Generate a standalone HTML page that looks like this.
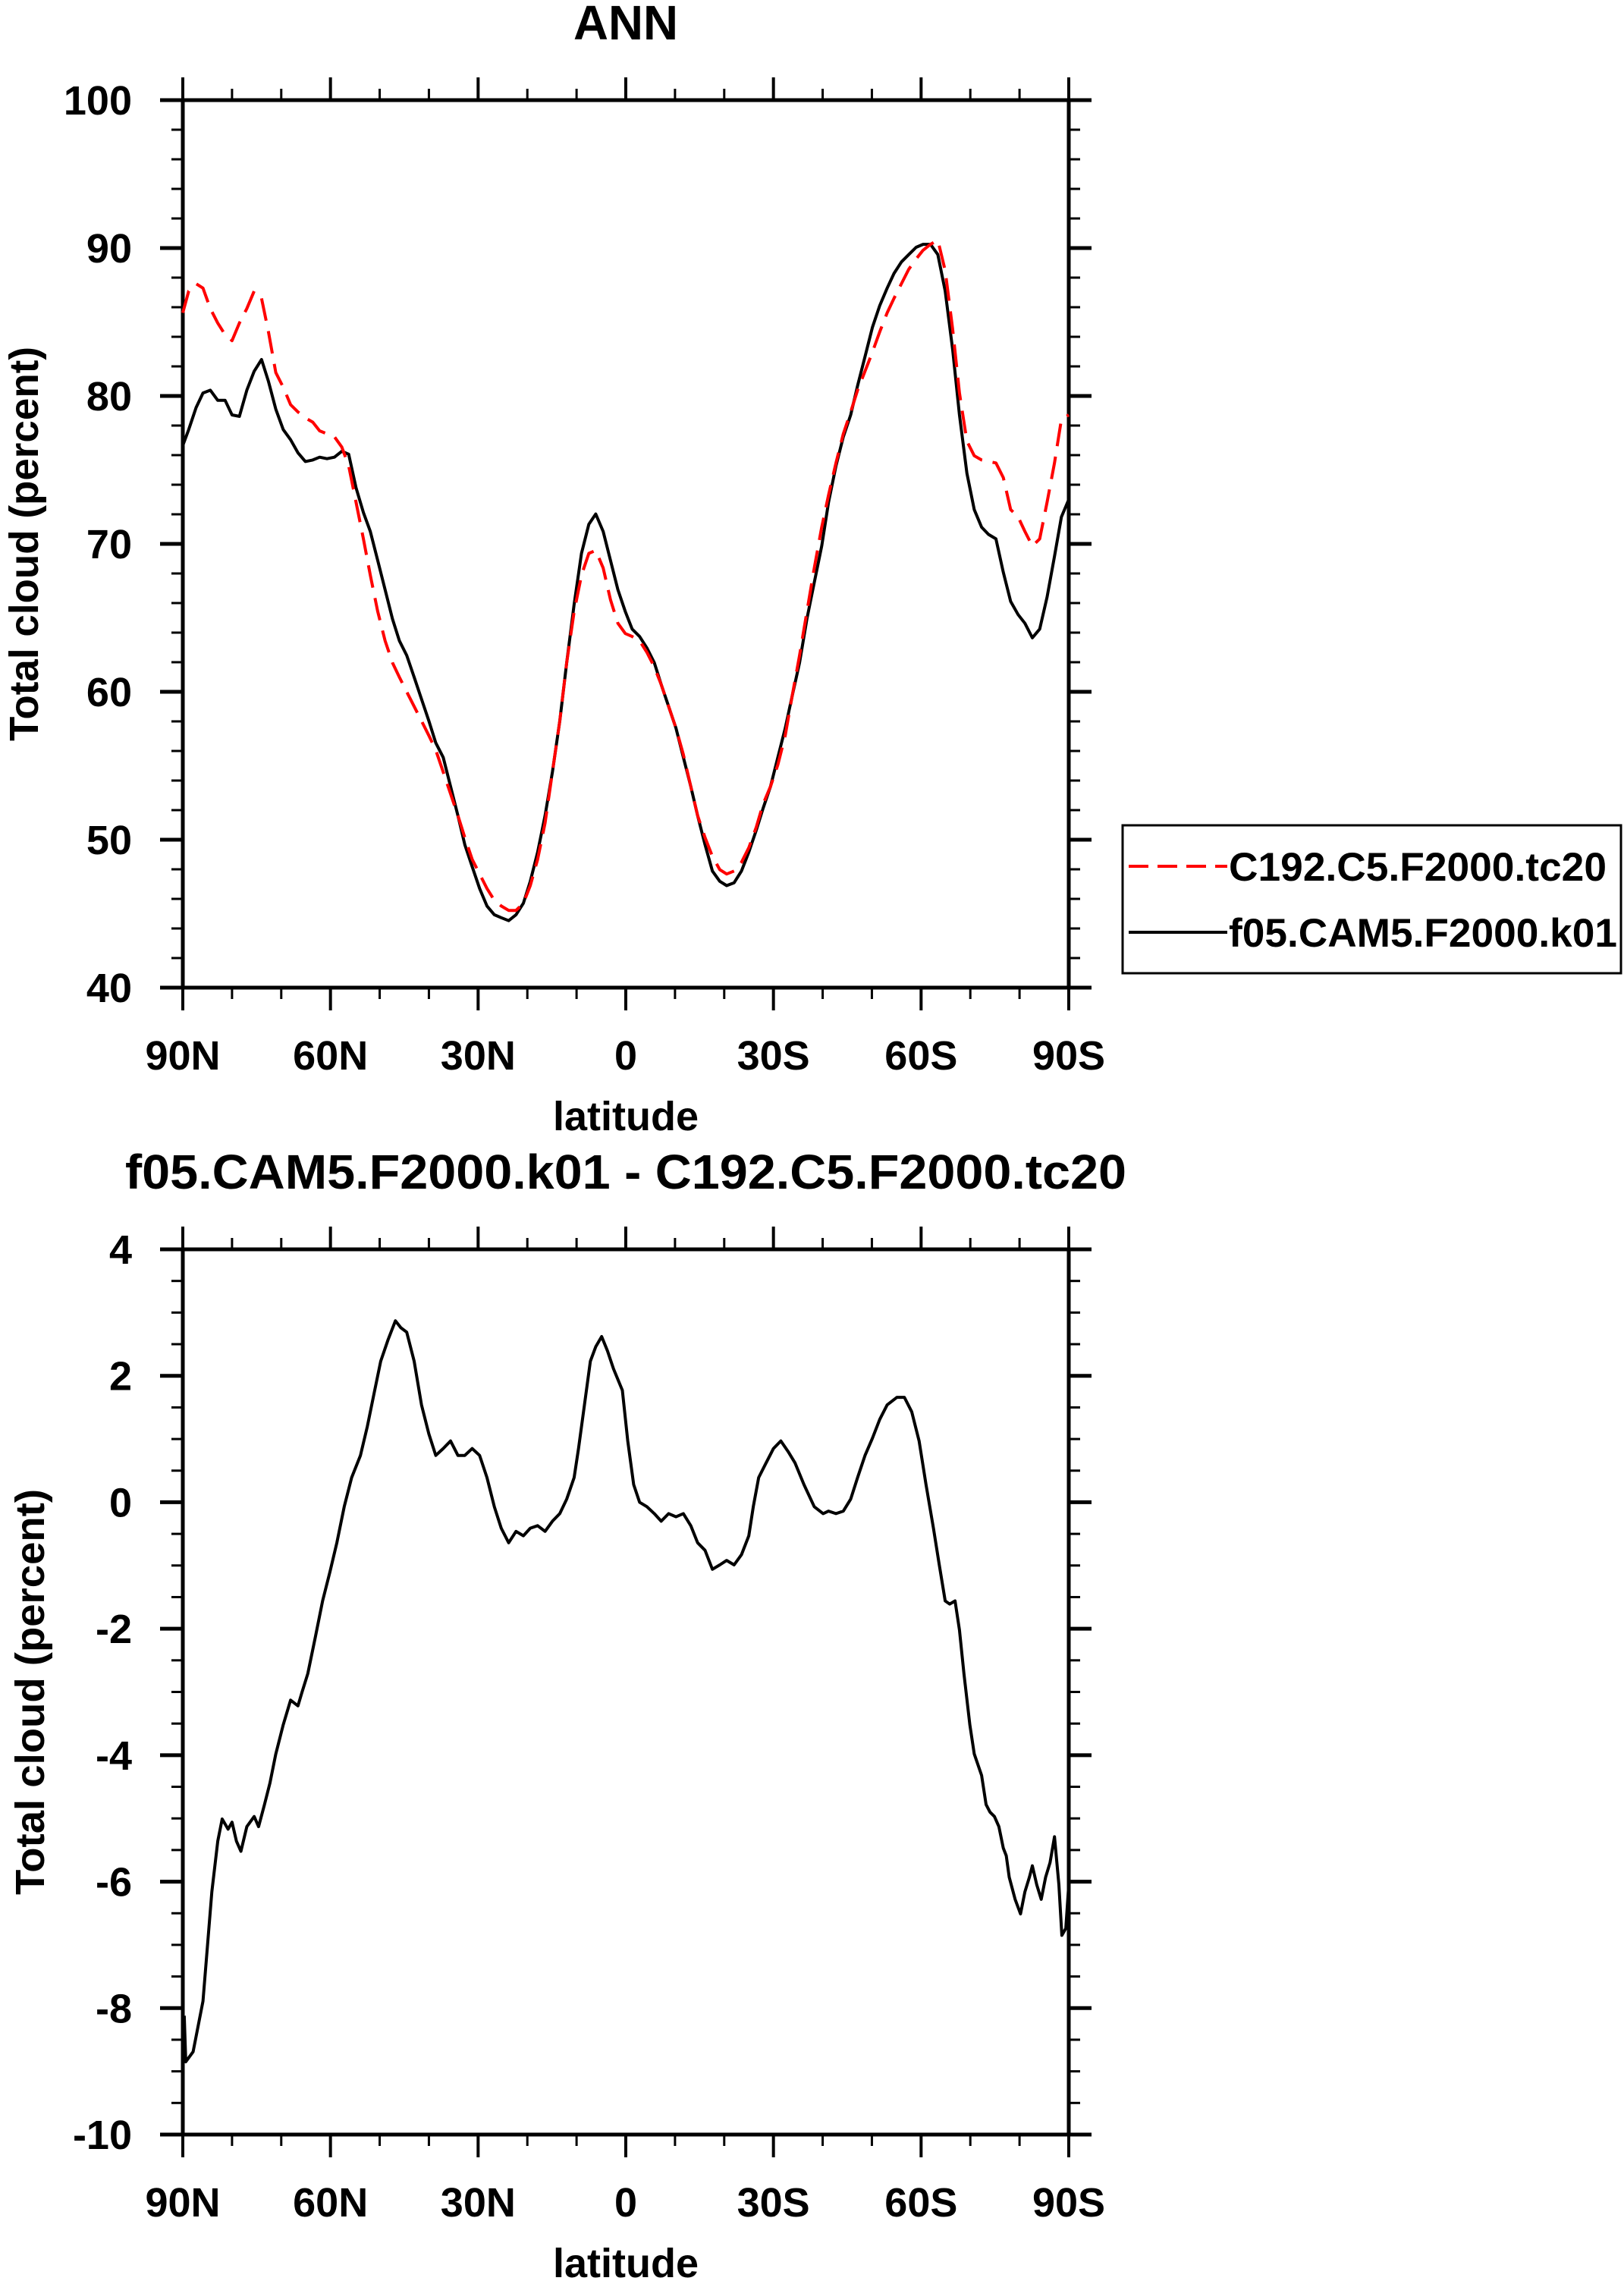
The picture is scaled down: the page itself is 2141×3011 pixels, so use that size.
<!DOCTYPE html>
<html><head><meta charset="utf-8"><style>
html,body{margin:0;padding:0;background:#fff;}
svg{display:block;}
text{font-family:"Liberation Sans",Arial,sans-serif;font-weight:bold;fill:#000;}
</style></head><body>
<svg id="chart" width="2141" height="3011" viewBox="0 0 2141 3011" xmlns="http://www.w3.org/2000/svg">
<rect width="2141" height="3011" fill="#fff"/>
<g id="top"></g>
<g id="bot"></g>
</svg>
<script>
// latitude grid for top panel (deg, north positive)
const latTop = [90.0,88.8,87.3,85.9,84.4,82.9,81.4,80.0,78.5,77.0,75.5,74.0,72.6,71.1,69.6,68.1,66.6,65.1,63.6,62.2,60.7,59.2,57.7,56.3,54.8,53.3,51.9,50.4,48.9,47.4,46.0,44.5,43.0,41.5,40.0,38.6,37.1,35.6,34.1,32.7,31.2,29.7,28.2,26.7,25.3,23.8,22.3,20.8,19.4,17.9,16.4,14.9,13.4,12.0,10.5,9.0,7.5,6.1,4.6,3.1,1.6,0.1,-1.3,-2.8,-4.3,-5.8,-7.2,-8.7,-10.2,-11.7,-13.2,-14.6,-16.1,-17.6,-19.1,-20.5,-22.0,-23.5,-25.0,-26.5,-27.9,-29.4,-30.9,-32.4,-33.8,-35.3,-36.8,-38.3,-39.8,-41.2,-42.7,-44.2,-45.7,-47.1,-48.6,-50.1,-51.6,-53.1,-54.5,-56.0,-57.5,-59.0,-60.4,-61.9,-63.4,-64.9,-66.4,-67.8,-69.3,-70.8,-72.3,-73.7,-75.2,-76.7,-78.2,-79.7,-81.1,-82.6,-84.1,-85.6,-87.1,-88.5,-90.0];
const cloudK01 = [76.65,77.73,79.21,80.2,80.39,79.70,79.70,78.72,78.62,80.39,81.67,82.46,80.99,79.11,77.73,77.04,76.16,75.57,75.67,75.86,75.76,75.86,76.26,76.06,73.79,72.12,70.84,68.87,66.90,64.93,63.45,62.46,60.99,59.51,58.03,56.55,55.57,53.60,51.63,49.66,48.18,46.70,45.52,44.93,44.73,44.53,44.93,45.71,47.19,49.16,51.63,54.58,58.03,61.97,65.91,69.36,71.33,72.02,70.84,68.87,66.90,65.42,64.24,63.74,62.96,61.97,60.49,59.01,57.54,55.57,53.60,51.63,49.66,47.88,47.19,46.90,47.09,47.88,49.16,50.64,52.12,53.60,55.57,57.54,59.70,61.97,64.93,67.39,69.85,72.81,75.27,77.24,78.72,80.69,82.66,84.63,86.11,87.29,88.28,89.06,89.56,90.05,90.25,90.25,89.56,87.09,83.15,78.72,74.78,72.32,71.13,70.64,70.34,68.08,66.11,65.22,64.63,63.65,64.24,66.40,69.16,71.82,73.0];
const cloudTc20 = [85.62,87.09,87.59,87.29,85.91,84.93,84.14,83.74,84.93,85.91,87.09,86.60,84.34,81.58,80.59,79.41,78.92,78.52,78.23,77.64,77.44,77.24,76.55,75.27,72.81,70.34,67.88,65.42,63.45,61.97,60.99,60.0,59.01,58.03,57.04,56.06,54.58,53.10,51.63,50.15,48.67,47.68,46.70,45.91,45.52,45.22,45.22,45.71,46.90,48.67,51.13,54.58,58.03,61.97,65.42,67.88,69.36,69.56,68.37,66.21,64.63,63.94,63.74,63.45,62.66,61.68,60.49,59.01,57.54,55.76,53.60,51.63,50.15,48.87,47.98,47.68,47.88,48.47,49.46,50.84,52.41,53.60,55.07,57.04,59.70,62.46,65.42,68.37,71.13,73.30,75.47,77.44,78.92,80.39,81.67,82.96,84.34,85.62,86.60,87.59,88.57,89.26,89.85,90.25,90.54,88.47,84.53,80.20,76.95,75.96,75.67,75.57,75.47,74.48,72.32,71.82,70.84,69.85,70.34,72.81,75.47,78.42,78.72];
// difference panel
const latDiff = [89.7,89.4,87.9,85.9,84.1,82.9,82.0,80.8,80.0,79.1,78.2,77.0,75.5,74.6,73.4,72.3,71.1,69.6,68.1,66.6,65.8,64.6,63.1,61.6,60.1,58.7,57.2,55.7,53.9,52.5,51.3,49.8,48.3,46.8,45.7,44.5,43.0,41.5,40.0,38.6,37.1,35.6,34.1,32.7,31.2,29.7,28.2,26.7,25.3,23.8,22.3,20.8,19.4,17.9,16.4,14.9,13.4,12.0,10.5,9.6,8.4,7.2,6.1,4.9,3.7,2.5,0.7,-0.4,-1.6,-2.8,-4.3,-5.8,-7.2,-8.7,-10.2,-11.7,-13.2,-14.6,-16.1,-17.6,-19.1,-20.5,-22.0,-23.5,-25.0,-25.9,-27.0,-28.5,-30.0,-31.5,-33.0,-34.4,-36.2,-38.3,-40.1,-41.2,-42.7,-44.2,-45.7,-47.1,-48.6,-50.1,-51.6,-53.1,-55.1,-56.6,-58.1,-59.6,-61.0,-62.5,-63.7,-64.9,-65.8,-66.9,-67.8,-68.7,-69.9,-70.8,-72.3,-73.2,-74.0,-74.9,-75.8,-76.7,-77.3,-77.9,-79.1,-80.2,-81.1,-82.0,-82.6,-83.5,-84.4,-85.3,-86.2,-87.1,-88.0,-88.6,-89.4,-90.0];
const cloudDiff = [-8.12,-8.85,-8.69,-7.89,-6.16,-5.36,-5.01,-5.17,-5.06,-5.36,-5.52,-5.13,-4.97,-5.13,-4.78,-4.44,-3.98,-3.52,-3.13,-3.22,-3.01,-2.71,-2.14,-1.56,-1.10,-0.64,-0.07,0.39,0.74,1.20,1.66,2.23,2.57,2.87,2.76,2.69,2.23,1.54,1.08,0.74,0.85,0.97,0.74,0.74,0.85,0.74,0.39,-0.07,-0.41,-0.64,-0.46,-0.53,-0.41,-0.37,-0.46,-0.30,-0.18,0.05,0.39,0.85,1.54,2.23,2.46,2.62,2.39,2.11,1.77,0.97,0.28,0.0,-0.07,-0.18,-0.30,-0.18,-0.23,-0.18,-0.37,-0.64,-0.76,-1.06,-0.99,-0.92,-0.99,-0.83,-0.53,-0.07,0.39,0.62,0.85,0.97,0.80,0.62,0.28,-0.07,-0.18,-0.14,-0.18,-0.14,0.05,0.39,0.74,1.01,1.31,1.54,1.66,1.66,1.43,0.97,0.28,-0.41,-0.99,-1.56,-1.61,-1.56,-2.02,-2.71,-3.52,-3.98,-4.32,-4.78,-4.90,-4.97,-5.13,-5.47,-5.59,-5.93,-6.28,-6.51,-6.16,-5.93,-5.75,-6.05,-6.28,-5.93,-5.70,-5.29,-6.05,-6.85,-6.74,-6.05];
const xTickLats = [90,60,30,0,-30,-60,-90];
const xTickLabels = ["90N","60N","30N","0","30S","60S","90S"];
const yTicksTop = [40,50,60,70,80,90,100];
const yTicksBot = [-10,-8,-6,-4,-2,0,2,4];

const NS="http://www.w3.org/2000/svg";
const L=241,R=1409;
function sx(lat){return L+(90-lat)/180*(R-L);}
function mk(tag,attrs,parent){const e=document.createElementNS(NS,tag);for(const k in attrs)e.setAttribute(k,attrs[k]);parent.appendChild(e);return e;}

function panel(g,top,bot,ymin,ymax,yticks,minorStep,series,title,titleLen,yTitleX,yTitleLen,titleSize){
  const sy=v=>bot-(v-ymin)/(ymax-ymin)*(bot-top);
  for(let lat=90;lat>=-90;lat-=10){
    const x=sx(lat);const major=(lat%30===0);const len=major?30:15;const w=major?4:3;
    let t=mk('line',{x1:x,x2:x,y1:bot,y2:bot+len,stroke:'#000','stroke-width':w},g);
    
    
    t=mk('line',{x1:x,x2:x,y1:top,y2:top-len,stroke:'#000','stroke-width':w},g);
    
    
  }
  for(let v=ymin;v<=ymax+1e-9;v+=minorStep){
    const y=sy(v);const major=yticks.some(t=>Math.abs(t-v)<1e-6);const len=major?30:15;const w=major?5:3;
    let t=mk('line',{x1:L-len,x2:L,y1:y,y2:y,stroke:'#000','stroke-width':w},g);
    
    
    t=mk('line',{x1:R,x2:R+len,y1:y,y2:y,stroke:'#000','stroke-width':w},g);
    
    
  }
  const frame=mk('rect',{x:L,y:top,width:R-L,height:bot-top,fill:'none',stroke:'#000','stroke-width':5},g);
  
  
  xTickLabels.forEach((lab,i)=>{
    const t=mk('text',{x:sx(xTickLats[i]),y:bot+108,'font-size':54,'text-anchor':'middle'},g);t.textContent=lab;
    
    
  });
  yticks.forEach(v=>{
    const t=mk('text',{x:174,y:sy(v)+19,'font-size':54,'text-anchor':'end'},g);t.textContent=String(v);
    
    
  });
  const xt=mk('text',{x:(L+R)/2,y:bot+188,'font-size':54,'text-anchor':'middle'},g);xt.textContent='latitude';
  
  
  const cy=(top+bot)/2;
  const yt=mk('text',{x:0,y:0,'font-size':54,'text-anchor':'middle',transform:`translate(${yTitleX},${cy}) rotate(-90)`,textLength:yTitleLen,lengthAdjust:'spacingAndGlyphs'},g);
  yt.textContent='Total cloud (percent)';
  
  
  const tt=mk('text',{x:(L+R)/2,y:top-80,'font-size':titleSize,'text-anchor':'middle'},g);
  if(titleLen){tt.setAttribute('textLength',titleLen);tt.setAttribute('lengthAdjust','spacingAndGlyphs');}
  tt.textContent=title;
  
  
  series.forEach(s=>{
    const d=s.lat.map((la,i)=>(i?'L':'M')+sx(la).toFixed(1)+','+sy(s.val[i]).toFixed(1)).join(' ');
    const p=mk('path',{d:d,fill:'none',stroke:s.color,'stroke-width':4,'stroke-linejoin':'round'},g);
    if(s.dash)p.setAttribute('stroke-dasharray',s.dash);
    
    
  });
}
const gt=document.getElementById('top'), gb=document.getElementById('bot');
panel(gt,132,1302,40,100,yTicksTop,2,[
  {lat:latTop,val:cloudK01,color:'#000',name:'line-f05-cam5'},
  {lat:latTop,val:cloudTc20,color:'#f00',dash:'30,14',name:'line-c192-c5'}
],'ANN',138,50,520,64);
panel(gb,1647,2814,-10,4,yTicksBot,0.5,[
  {lat:latDiff,val:cloudDiff,color:'#000',name:'line-difference'}
],'f05.CAM5.F2000.k01 - C192.C5.F2000.tc20',1320,58,535,64);

const lg=mk('g',{},gt);


const box=mk('rect',{x:1480,y:1088,width:657,height:195,fill:'#fff',stroke:'#000','stroke-width':3},lg);


const l1=mk('line',{x1:1488,x2:1618,y1:1142,y2:1142,stroke:'#f00','stroke-width':4,'stroke-dasharray':'26,12'},lg);


const t1=mk('text',{x:1620,y:1161,'font-size':53,textLength:498,lengthAdjust:'spacingAndGlyphs'},lg);t1.textContent='C192.C5.F2000.tc20';


const l2=mk('line',{x1:1488,x2:1618,y1:1229,y2:1229,stroke:'#000','stroke-width':4},lg);


const t2=mk('text',{x:1620,y:1248,'font-size':53,textLength:512,lengthAdjust:'spacingAndGlyphs'},lg);t2.textContent='f05.CAM5.F2000.k01';


</script>
</body></html>
